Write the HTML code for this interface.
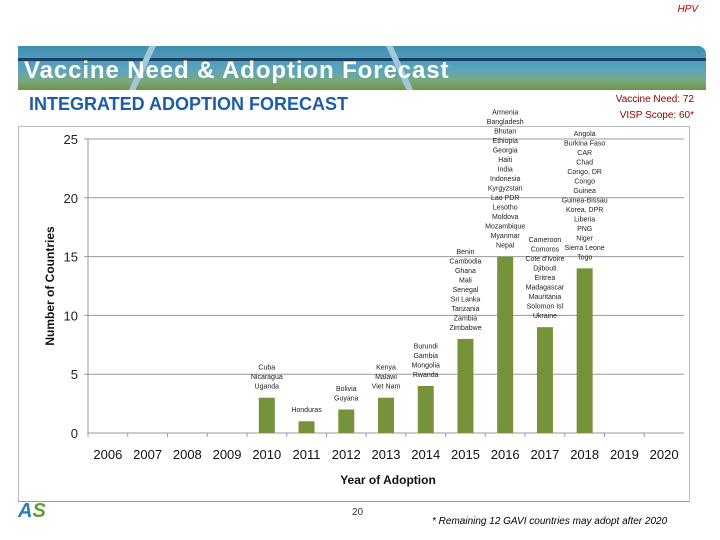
<!DOCTYPE html>
<html><head><meta charset="utf-8"><style>
body{margin:0;width:720px;height:540px;background:#fff;font-family:"Liberation Sans",sans-serif;position:relative;overflow:hidden}
.abs{position:absolute}
</style></head><body>
<div class="abs" style="right:22px;top:4px;font-size:10px;font-style:italic;color:#c00000">HPV</div>
<div class="abs" style="left:18px;top:46px;width:688px;height:44px;border-radius:0 8px 0 0;overflow:hidden;background:linear-gradient(to bottom,#3f8fb0 0%,#5aa5bd 55%,#7aa880 78%,#6f9444 100%)">
<div class="abs" style="left:0;top:12px;width:688px;height:3px;background:#1c3f66"></div>
<div class="abs" style="left:120px;top:-10px;width:6px;height:70px;background:#9fc8d8;transform:rotate(25deg)"></div>
<div class="abs" style="left:380px;top:-10px;width:6px;height:70px;background:#9fc8d8;transform:rotate(-25deg)"></div>
<div class="abs" style="left:6px;top:11px;font-size:24px;letter-spacing:0.9px;font-weight:bold;color:#fff;white-space:nowrap">Vaccine Need &amp; Adoption Forecast</div>
</div>
<div class="abs" style="left:29px;top:94px;font-size:18px;font-weight:bold;color:#1f5ca8;white-space:nowrap">INTEGRATED ADOPTION FORECAST</div>
<div class="abs" style="right:26px;top:94px;font-size:10px;color:#8b0000">Vaccine Need: 72</div>
<div class="abs" style="right:26px;top:110px;font-size:10px;color:#8b0000">VISP Scope: 60*</div>
<div class="abs" style="left:18px;top:126px;width:672px;height:376px;border:1px solid #bbb;border-bottom:1px solid #999;box-sizing:border-box"></div>
<svg class="abs" style="left:0;top:0" width="720" height="540" id="chart"></svg>
<div class="abs" style="left:352px;top:507px;font-size:10px;color:#333">20</div>
<div class="abs" style="left:432px;top:516px;font-size:10px;font-style:italic;color:#000">* Remaining 12 GAVI countries may adopt after 2020</div>
<div class="abs" style="left:18px;top:500px;font-size:20px;font-weight:bold;color:#2b7fb8;font-style:italic">A<span style="color:#5aa02c">S</span></div>
<script>
const years=["2006","2007","2008","2009","2010","2011","2012","2013","2014","2015","2016","2017","2018","2019","2020"];
const counts=[0,0,0,0,3,1,2,3,4,8,15,9,14,0,0];
const yTicks=[0,5,10,15,20,25];
const countries=[[],[],[],[],["Cuba","Nicaragua","Uganda"],["Honduras"],["Bolivia","Guyana"],["Kenya","Malawi","Viet Nam"],["Burundi","Gambia","Mongolia","Rwanda"],
["Benin","Cambodia","Ghana","Mali","Senegal","Sri Lanka","Tanzania","Zambia","Zimbabwe"],
["Armenia","Bangladesh","Bhutan","Ethiopia","Georgia","Haiti","India","Indonesia","Kyrgyzstan","Lao PDR","Lesotho","Moldova","Mozambique","Myanmar","Nepal"],
["Cameroon","Comoros","Cote d'Ivoire","Djibouti","Eritrea","Madagascar","Mauritania","Solomon Isl","Ukraine"],
["Angola","Burkina Faso","CAR","Chad","Congo, DR","Congo","Guinea","Guinea-Bissau","Korea, DPR","Liberia","PNG","Niger","Sierra Leone","Togo"],[],[]];
const svg=document.getElementById('chart'),NS='http://www.w3.org/2000/svg';
const L=88,R=684,Y0=433,Y25=139;
const y=v=>Y0-(Y0-Y25)*v/25, step=(R-L)/years.length, x=i=>L+step*(i+0.5);
function mk(t,a,txt){const e=document.createElementNS(NS,t);for(const k in a)e.setAttribute(k,a[k]);if(txt!=null)e.textContent=txt;svg.appendChild(e);return e;}
yTicks.forEach(t=>{
 if(t>0){const g=mk('line',{x1:L-4,x2:R,y1:y(t),y2:y(t),stroke:'#999','stroke-width':1});
 
 }
 const tl=mk('text',{x:78,y:y(t)+5,'text-anchor':'end','font-size':13,fill:'#222'},t);
 
 
});
const ax=mk('line',{x1:L,x2:R,y1:Y0,y2:Y0,stroke:'#999'});


const ay=mk('line',{x1:L,x2:L,y1:Y25,y2:Y0,stroke:'#999'});


years.forEach((yr,i)=>{
 const tk=mk('line',{x1:L+step*i,x2:L+step*i,y1:Y0,y2:Y0+4,stroke:'#999'});
 
 
 const lb=mk('text',{x:x(i),y:459,'text-anchor':'middle','font-size':13,fill:'#111'},yr);
 
 
 if(counts[i]>0){
  const b=mk('rect',{x:x(i)-8,y:y(counts[i]),width:16,height:Y0-y(counts[i]),fill:'#76933c'});
  
  
 }
 const list=countries[i],n=list.length;
 list.forEach((c,j)=>{
  const ty=y(counts[i])-12-(n-1-j)*9.5;
  const ct=mk('text',{x:x(i),y:ty+3,'text-anchor':'middle','font-size':7,fill:'#222'},c);
  
  
 });
});
const xt=mk('text',{x:388,y:484,'text-anchor':'middle','font-size':12,'font-weight':'bold',fill:'#111'},'Year of Adoption');


const yt=mk('text',{x:0,y:0,'text-anchor':'middle','font-size':12,'font-weight':'bold',fill:'#111',transform:'translate(54,286) rotate(-90)'},'Number of Countries');


</script>
</body></html>
